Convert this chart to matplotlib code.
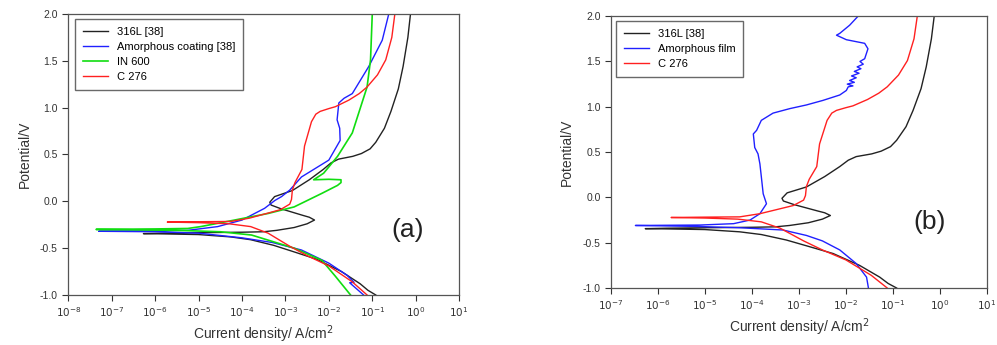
import numpy as np
import matplotlib.pyplot as plt
from matplotlib.ticker import FixedLocator, FixedFormatter

plt.rcParams["font.family"] = ["Liberation Sans", "DejaVu Sans"]

# Curves as (log10 current density, potential V), traced in drawing order
ss316_log = [-0.92, -1.10, -1.28, -1.71, -2.27, -2.8, -3.27, -3.8, -4.26, -5.0, -5.8, -6.27,
             -5.8, -5.0, -4.0, -3.5, -3.2, -2.8, -2.5, -2.33, -2.45, -2.6, -3.1, -3.33, -3.36, -3.25,
             -2.84, -2.45, -2.13, -1.95, -1.78, -1.45, -1.25, -1.05, -0.92, -0.72, -0.57, -0.40,
             -0.29, -0.18, -0.12]
ss316_v = [-1.0, -0.95, -0.88, -0.75, -0.62, -0.54, -0.47, -0.41, -0.38, -0.355, -0.348, -0.345,
           -0.34, -0.335, -0.33, -0.325, -0.31, -0.28, -0.24, -0.20, -0.17, -0.15, -0.08, -0.04, -0.01, 0.05,
           0.115, 0.23, 0.34, 0.41, 0.45, 0.48, 0.51, 0.56, 0.63, 0.78, 0.96, 1.2,
           1.44, 1.75, 2.0]

c276_log = [-1.12, -1.46, -2.0, -2.5, -2.9, -3.4, -3.8, -4.3, -5.0, -5.72,
            -5.0, -4.26, -3.83, -3.12, -2.9, -2.86, -2.84, -2.78, -2.62, -2.56,
            -2.4, -2.3, -2.2, -2.0, -1.85, -1.54, -1.30, -1.12, -0.88, -0.69, -0.55, -0.48]
c276_v = [-1.0, -0.86, -0.69, -0.58, -0.48, -0.34, -0.27, -0.24, -0.228, -0.222,
          -0.218, -0.215, -0.18, -0.09, -0.03, 0.02, 0.12, 0.2, 0.34, 0.59,
          0.85, 0.93, 0.96, 0.99, 1.01, 1.08, 1.15, 1.22, 1.35, 1.51, 1.75, 2.0]

coat_log = [-1.20, -1.52, -1.42, -1.58, -2.0, -2.63, -3.3, -4.0, -5.0, -6.0, -7.30,
            -6.0, -5.25, -4.56, -4.0, -3.48, -3.24, -3.09, -2.9, -2.63, -2.0,
            -1.74, -1.75, -1.81, -1.77, -1.65, -1.46, -1.08, -0.77, -0.62]
coat_v = [-1.0, -0.87, -0.865, -0.79, -0.66, -0.52, -0.44, -0.39, -0.34, -0.325, -0.32,
          -0.315, -0.31, -0.27, -0.20, -0.075, 0.01, 0.05, 0.12, 0.26, 0.44,
          0.65, 0.78, 0.87, 1.05, 1.10, 1.15, 1.44, 1.72, 2.0]

in600_log = [-1.50, -1.85, -2.16, -2.8, -3.78, -4.5, -5.5, -7.36,
             -6.0, -5.25, -4.95, -4.17, -3.4, -2.8, -2.16, -1.80, -1.72, -1.72, -2.0,
             -2.35, -2.12, -1.8, -1.46, -1.12, -1.04, -1.0]
in600_v = [-1.0, -0.80, -0.63, -0.5, -0.36, -0.325, -0.31, -0.30,
           -0.295, -0.29, -0.27, -0.20, -0.13, -0.06, 0.085, 0.17, 0.20, 0.23, 0.235,
           0.23, 0.30, 0.48, 0.73, 1.22, 1.51, 2.0]

film_log = [-1.52, -1.56, -1.78, -2.13, -2.5, -2.84, -3.34, -4.26, -5.2, -6.48,
            -5.1, -4.39, -4.04, -3.83, -3.69, -3.76, -3.80, -3.83, -3.87, -3.94,
            -3.97, -3.90, -3.80, -3.55, -3.19, -2.84, -2.49, -2.13, -1.99,
            -1.95, -1.85, -1.97, -1.82, -1.92, -1.78, -1.88, -1.72, -1.82, -1.68,
            -1.76, -1.63, -1.70, -1.60, -1.53, -1.60, -1.99, -2.20, -2.13, -1.92,
            -1.74]
film_v = [-1.0, -0.88, -0.73, -0.58, -0.48, -0.42, -0.36, -0.335, -0.32, -0.31,
          -0.305, -0.29, -0.25, -0.18, -0.07, 0.04, 0.23, 0.37, 0.48, 0.55,
          0.70, 0.74, 0.85, 0.93, 0.98, 1.02, 1.07, 1.13, 1.18,
          1.22, 1.23, 1.25, 1.27, 1.29, 1.32, 1.34, 1.37, 1.39, 1.42,
          1.44, 1.47, 1.50, 1.53, 1.64, 1.70, 1.74, 1.79, 1.81, 1.90,
          2.0]

y_ticks = [-1.0, -0.5, 0.0, 0.5, 1.0, 1.5, 2.0]


def style_axes(ax, dec_min):
    ax.set_xscale("log")
    ax.set_xlim(10.0 ** dec_min, 10.0)
    ax.set_ylim(-1.0, 2.0)
    decs = list(range(dec_min, 2))
    ax.xaxis.set_major_locator(FixedLocator([10.0 ** d for d in decs]))
    ax.xaxis.set_major_formatter(FixedFormatter([f"$10^{{{d}}}$" for d in decs]))
    ax.xaxis.set_minor_locator(FixedLocator([]))
    ax.set_yticks(y_ticks)
    ax.set_yticklabels([f"{t:.1f}" for t in y_ticks])
    ax.tick_params(direction="out", length=4, width=0.8, labelsize=7.5,
                   colors="#333333", top=False, right=False)
    for s in ax.spines.values():
        s.set_color("#555555")
        s.set_linewidth(0.9)
    ax.set_xlabel("Current density/ A/cm$^2$", fontsize=10, color="#333333", labelpad=3)
    ax.set_ylabel("Potential/V", fontsize=10, color="#333333", labelpad=6)


def add_legend(ax, left):
    ax.legend(loc="upper left", fontsize=8, frameon=True, fancybox=False,
              edgecolor="#444444", handlelength=2.3, borderpad=0.7,
              labelspacing=0.45, borderaxespad=0.0,
              bbox_to_anchor=(left, 0.982))


fig = plt.figure(figsize=(9.97, 3.45), dpi=100)

ax1 = fig.add_axes([0.0685, 0.145, 0.392, 0.8145])
ax1.plot(10.0 ** np.array(ss316_log), ss316_v, color="#222222", lw=1.0, label="316L [38]")
ax1.plot(10.0 ** np.array(coat_log), coat_v, color="#2020ff", lw=1.0, label="Amorphous coating [38]")
ax1.plot(10.0 ** np.array(in600_log), in600_v, color="#10dd10", lw=1.2, label="IN 600")
ax1.plot(10.0 ** np.array(c276_log), c276_v, color="#ff2020", lw=1.0, label="C 276")
style_axes(ax1, -8)
add_legend(ax1, 0.017)
ax1.text(0.867, 0.231, "(a)", transform=ax1.transAxes, fontsize=19,
         ha="center", va="center", color="#222222")

ax2 = fig.add_axes([0.6128, 0.1652, 0.377, 0.788])
ax2.plot(10.0 ** np.array(ss316_log), ss316_v, color="#222222", lw=1.0, label="316L [38]")
ax2.plot(10.0 ** np.array(film_log), film_v, color="#2020ff", lw=1.0, label="Amorphous film")
ax2.plot(10.0 ** np.array(c276_log), c276_v, color="#ff2020", lw=1.0, label="C 276")
style_axes(ax2, -7)
add_legend(ax2, 0.013)
ax2.text(0.848, 0.243, "(b)", transform=ax2.transAxes, fontsize=19,
         ha="center", va="center", color="#222222")

fig.savefig("out.png", dpi=100)
